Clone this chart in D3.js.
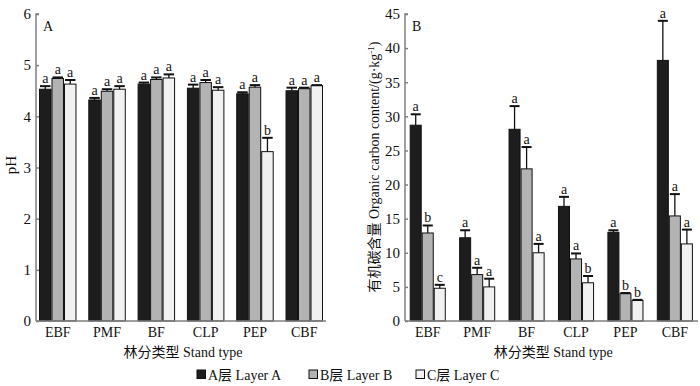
<!DOCTYPE html>
<html>
<head>
<meta charset="utf-8">
<script src="https://cdn.jsdelivr.net/npm/d3@7.9.0/dist/d3.min.js"></script>
<style>
  body { margin: 0; background: #fff; }
  svg { display: block; font-family: "Liberation Serif", "Noto Sans CJK SC", serif; }
</style>
</head>
<body>
<svg id="chart" width="700" height="386"></svg>
<script>
// ---------- Data ----------
const standTypes = ["EBF", "PMF", "BF", "CLP", "PEP", "CBF"];
const layers = ["A", "B", "C"];
const layerNames = ["A层 Layer A", "B层 Layer B", "C层 Layer C"];

// pH per layer (A, B, C) for each stand type
const phA = [4.53, 4.32, 4.63, 4.55, 4.44, 4.50];
const phB = [4.74, 4.49, 4.72, 4.66, 4.57, 4.54];
const phC = [4.63, 4.53, 4.75, 4.51, 3.31, 4.60];
const phErrA = [0.06, 0.04, 0.03, 0.07, 0.03, 0.06];
const phErrB = [0.02, 0.04, 0.04, 0.05, 0.04, 0.02];
const phErrC = [0.08, 0.06, 0.07, 0.06, 0.27, 0.01];
const phSigA = ["a", "a", "a", "a", "a", "a"];
const phSigB = ["a", "a", "a", "a", "a", "a"];
const phSigC = ["a", "a", "a", "a", "b", "a"];

// Organic carbon content (g/kg)
const ocA = [28.7, 12.2, 28.1, 16.8, 13.0, 38.2];
const ocB = [12.9, 6.8, 22.3, 9.1, 4.0, 15.4];
const ocC = [4.8, 5.0, 10.0, 5.6, 3.0, 11.3];
const ocErrA = [1.6, 1.1, 3.4, 1.4, 0.3, 5.8];
const ocErrB = [1.1, 1.0, 3.2, 0.8, 0.1, 3.2];
const ocErrC = [0.5, 1.2, 1.3, 1.0, 0.1, 2.1];
const ocSigA = ["a", "a", "a", "a", "a", "a"];
const ocSigB = ["b", "a", "a", "a", "b", "a"];
const ocSigC = ["c", "a", "a", "b", "b", "a"];

const fills = ["#1d1d1d", "#b3b3b3", "#f1f1f1"];
const axisColor = "#808080";

const svg = d3.select("#chart");

// ---------- Panel renderer ----------
function drawPanel(opts) {
  const { x0, x1, bandStart, bandEnd, yTop, yBottom, domainMax, tickVals,
          values, errors, sigs, letter, pad } = opts;

  const x = d3.scaleBand().domain(standTypes).range([bandStart, bandEnd]).paddingInner(pad).paddingOuter(0);
  const xl = d3.scaleBand().domain(layers).range([0, x.bandwidth()]).padding(0);
  const y = d3.scaleLinear().domain([0, domainMax]).range([yBottom, yTop]);

  const g = svg.append("g");

  // bars
  standTypes.forEach((st, i) => {
    layers.forEach((ly, j) => {
      const v = values[j][i];
      const e = errors[j][i];
      const bx = x(st) + xl(ly);
      const bw = xl.bandwidth();
      g.append("rect")
        .attr("x", bx + 0.5)
        .attr("y", y(v))
        .attr("width", bw - 1)
        .attr("height", y(0) - y(v))
        .attr("fill", fills[j])
        .attr("stroke", "#111")
        .attr("stroke-width", 1);
      // error bar (upper only)
      const cx = bx + bw / 2;
      g.append("line")
        .attr("x1", cx).attr("x2", cx)
        .attr("y1", y(v)).attr("y2", y(v + e))
        .attr("stroke", "#111").attr("stroke-width", 1.3);
      g.append("line")
        .attr("x1", bx + 1).attr("x2", bx + bw - 1)
        .attr("y1", y(v + e)).attr("y2", y(v + e))
        .attr("stroke", "#111").attr("stroke-width", 2);
      g.append("text")
        .attr("x", cx)
        .attr("y", y(v + e) - 3)
        .attr("text-anchor", "middle")
        .attr("font-size", 14)
        .attr("fill", "#111")
        .text(sigs[j][i]);
    });
  });

  // y axis
  const yAxis = d3.axisRight(y).tickValues(tickVals).tickSize(3).tickFormat(d3.format("d"));
  const ya = g.append("g").attr("transform", `translate(${x0},0)`).call(yAxis);
  ya.select(".domain").attr("stroke", axisColor).attr("stroke-width", 1.5)
    .attr("d", `M3,${yTop}H0V${yBottom}`);
  ya.selectAll(".tick line").attr("stroke", axisColor).attr("stroke-width", 1.5);
  ya.selectAll(".tick text")
    .attr("x", -5).attr("text-anchor", "end")
    .attr("font-size", 15).attr("fill", "#111")
    .attr("font-family", "Liberation Serif");

  // x axis baseline
  g.append("line")
    .attr("x1", x0).attr("x2", x1)
    .attr("y1", yBottom).attr("y2", yBottom)
    .attr("stroke", axisColor).attr("stroke-width", 1.5);

  // category labels
  standTypes.forEach(st => {
    g.append("text")
      .attr("x", x(st) + x.bandwidth() / 2)
      .attr("y", yBottom + 16)
      .attr("text-anchor", "middle")
      .attr("font-size", 14)
      .attr("fill", "#111")
      .text(st);
  });

  // x title
  g.append("text")
    .attr("x", (bandStart + bandEnd) / 2 + 2)
    .attr("y", yBottom + 36)
    .attr("text-anchor", "middle")
    .attr("font-size", 14)
    .attr("fill", "#111")
    .text("林分类型 Stand type");

  // panel letter
  g.append("text")
    .attr("x", x0 + 7)
    .attr("y", yTop + 17)
    .attr("font-size", 14)
    .attr("fill", "#111")
    .text(letter);

  return g;
}

// ---------- Panel A: pH ----------
const gA = drawPanel({
  x0: 36, x1: 326, bandStart: 39, bandEnd: 323, yTop: 14, yBottom: 321,
  domainMax: 6, tickVals: [0, 1, 2, 3, 4, 5, 6],
  values: [phA, phB, phC], errors: [phErrA, phErrB, phErrC],
  sigs: [phSigA, phSigB, phSigC], letter: "A", pad: 0.24
});
gA.append("text")
  .attr("transform", "translate(16,165) rotate(-90)")
  .attr("text-anchor", "middle")
  .attr("font-size", 15)
  .attr("fill", "#111")
  .text("pH");

// ---------- Panel B: organic carbon ----------
const gB = drawPanel({
  x0: 405, x1: 698, bandStart: 409.7, bandEnd: 692.9, yTop: 14, yBottom: 321,
  domainMax: 45, tickVals: [0, 5, 10, 15, 20, 25, 30, 35, 40, 45],
  values: [ocA, ocB, ocC], errors: [ocErrA, ocErrB, ocErrC],
  sigs: [ocSigA, ocSigB, ocSigC], letter: "B", pad: 0.27
});
const yl = gB.append("text")
  .attr("transform", "translate(379,167) rotate(-90)")
  .attr("text-anchor", "middle")
  .attr("font-size", 14)
  .attr("fill", "#111");
yl.append("tspan").text("有机碳含量 Organic carbon content/(g·kg");
yl.append("tspan").attr("font-size", 9).attr("dy", -5).text("-1");
yl.append("tspan").attr("dy", 5).text(")");

// ---------- Legend ----------
const legendX = [197, 309, 416];
const legend = svg.append("g");
layerNames.forEach((name, i) => {
  legend.append("rect")
    .attr("x", legendX[i]).attr("y", 370)
    .attr("width", 8.5).attr("height", 8.5)
    .attr("fill", fills[i]).attr("stroke", "#111").attr("stroke-width", 1);
  legend.append("text")
    .attr("x", legendX[i] + 11).attr("y", 379.5)
    .attr("font-size", 14)
    .attr("fill", "#111")
    .text(name);
});
</script>
</body>
</html>
